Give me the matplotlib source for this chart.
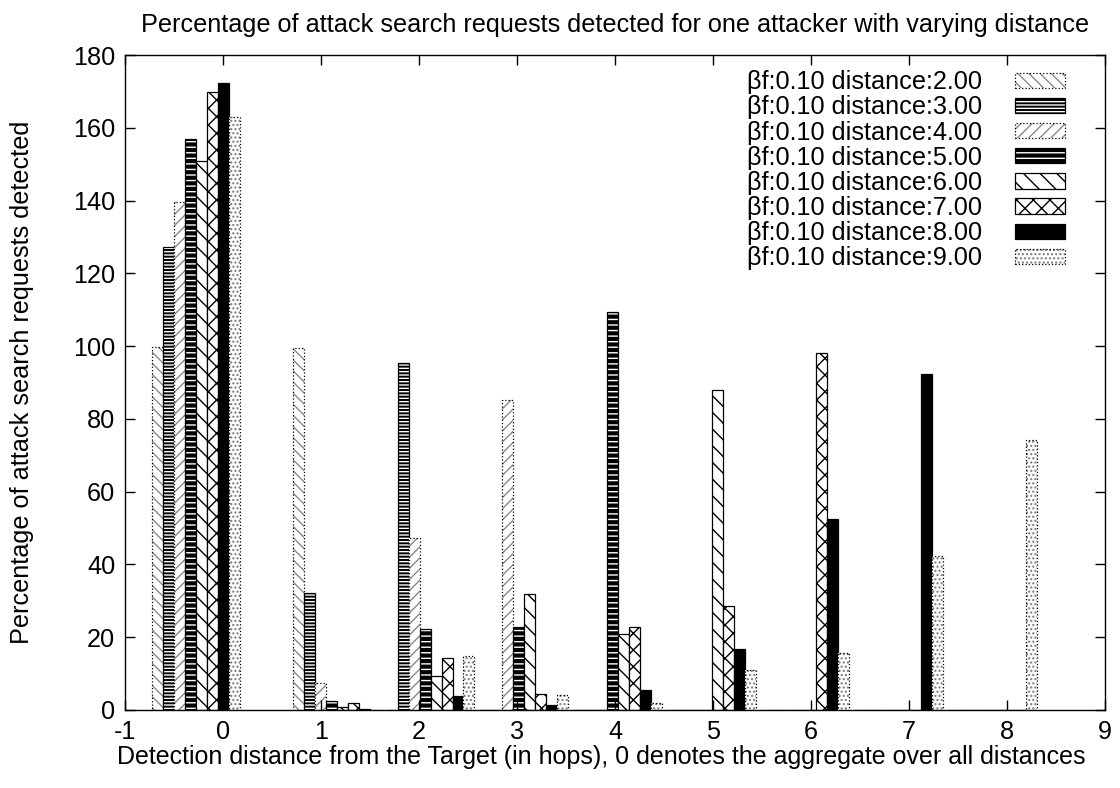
import numpy as np
import matplotlib
matplotlib.use("Agg")
import matplotlib.pyplot as plt

plt.rcParams['font.family'] = ['Liberation Sans', 'DejaVu Sans']
plt.rcParams['axes.unicode_minus'] = False
plt.rcParams['hatch.linewidth'] = 1.0

# hop distance of each cluster (0 = aggregate over all distances)
hops = [0, 1, 2, 3, 4, 5, 6, 7, 8]

# percentage of attack search requests detected, one list per attacker distance
dist2 = [99.7, 99.4, 0, 0, 0, 0, 0, 0, 0]
dist3 = [127.3, 32.1, 95.3, 0, 0, 0, 0, 0, 0]
dist4 = [139.7, 7.5, 47.2, 85.2, 0, 0, 0, 0, 0]
dist5 = [156.9, 2.5, 22.2, 22.9, 109.3, 0, 0, 0, 0]
dist6 = [150.8, 0.7, 9.3, 31.9, 20.8, 88.0, 0, 0, 0]
dist7 = [170.0, 1.8, 14.4, 4.3, 22.9, 28.6, 98.1, 0, 0]
dist8 = [172.3, 0.4, 3.8, 1.4, 5.5, 16.7, 52.5, 92.3, 0]
dist9 = [163.1, 0.0, 14.8, 4.1, 1.8, 11.0, 15.6, 42.3, 74.2]

series = [dist2, dist3, dist4, dist5, dist6, dist7, dist8, dist9]
labels = ["\u03b2f:0.10 distance:%.2f" % d for d in [2, 3, 4, 5, 6, 7, 8, 9]]

# gnuplot-like fill patterns: (face, hatch, hatch colour, edge style)
styles = [
    ("white", "\\\\\\", "#8a8a8a", ":"),
    ("black", "-----", "white", "-"),
    ("white", "///", "#8a8a8a", ":"),
    ("black", "---", "white", "-"),
    ("white", "\\\\", "black", "-"),
    ("white", "xx", "black", "-"),
    ("black", None, "black", "-"),
    ("white", "....", "#7a7a7a", ":"),
]

# cluster layout on the numeric axis: first cluster sits apart from the rest
bar_w = 0.112
step = 0.956
slots = np.array([-1.5, 0, 1, 2, 3, 4, 5, 6, 7])
cluster_left = 0.714 + step * slots

fs = 18.2

fig = plt.figure(figsize=(11.2, 7.88), dpi=100)
ax = fig.add_axes([0.1116, 0.099, 0.875, 0.831])

handles = []
for i, (vals, lab, st) in enumerate(zip(series, labels, styles)):
    face, hatch, hcol, ls = st
    x = cluster_left + bar_w * i
    fill = ax.bar(x, vals, width=bar_w, align='edge', facecolor=face,
                  edgecolor=hcol, hatch=hatch, linewidth=0)
    # outline drawn separately so the hatch can keep its own colour
    edge = ax.bar(x, vals, width=bar_w, align='edge', fill=False,
                  edgecolor='black', linewidth=0.9, linestyle=ls)
    handles.append((fill.patches[0], edge.patches[0]))

ax.set_xlim(-1, 9)
ax.set_ylim(0, 180)
ax.set_xticks(range(-1, 10))
ax.set_yticks(range(0, 181, 20))
ax.tick_params(direction='in', length=7, width=1, top=True, right=True,
               labelsize=fs)
ax.tick_params(axis='x', pad=7)
ax.tick_params(axis='y', pad=7)
for s in ax.spines.values():
    s.set_linewidth(1)

ax.set_title("Percentage of attack search requests detected for one attacker with varying distance",
             fontsize=fs, pad=17)
ax.set_xlabel("Detection distance from the Target (in hops), 0 denotes the aggregate over all distances",
              fontsize=18, labelpad=1, x=0.486)
ax.set_ylabel("Percentage of attack search requests detected", fontsize=fs, labelpad=28)

leg = ax.legend(handles, labels, loc='upper right', frameon=False, markerfirst=False,
                fontsize=fs, handlelength=2.0, handleheight=0.55, labelspacing=0.045,
                handletextpad=1.3, borderaxespad=0.2, bbox_to_anchor=(0.975, 1.0))

fig.savefig("out.png", dpi=100)
